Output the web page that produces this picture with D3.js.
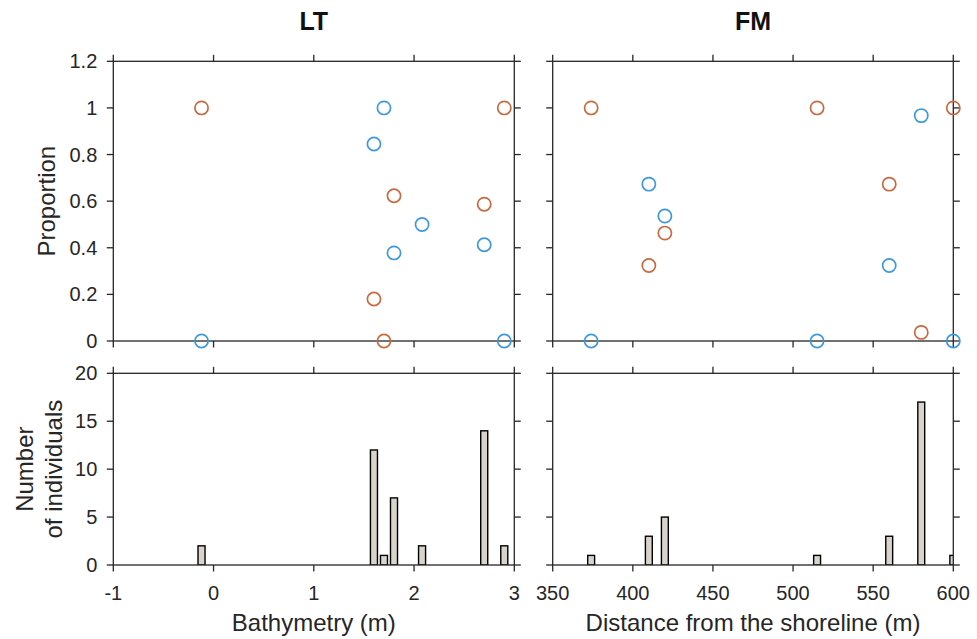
<!DOCTYPE html>
<html>
<head>
<meta charset="utf-8">
<script src="https://cdn.jsdelivr.net/npm/d3@7"></script>
<style>
  html, body { margin: 0; padding: 0; background: #fff; }
  svg { display: block; }
  text { font-family: "Liberation Sans", Arial, Helvetica, sans-serif; fill: #262626; }
</style>
</head>
<body>
<svg id="chart" width="977" height="639"></svg>
<script>
// ---------------- data ----------------
const panelTitles = ["LT", "FM"];
const xLabels = ["Bathymetry (m)", "Distance from the shoreline (m)"];

// LT (bathymetry); null = marker hidden under the other series in the picture
const ltX      = [-0.12, 1.6, 1.7, 1.8, 2.08, 2.7, 2.9];
const ltOrange = [1, 0.18, 0, 0.623, null, 0.587, 1];
const ltBlue   = [0, 0.845, 1, 0.378, 0.5, 0.413, 0];
const ltCount  = [2, 12, 1, 7, 2, 14, 2];
const ltXTicks = [-1, 0, 1, 2, 3];

// FM (distance from shoreline)
const fmX      = [374, 410, 420, 515, 560, 580, 600];
const fmOrange = [1, 0.324, 0.463, 1, 0.673, 0.037, 1];
const fmBlue   = [0, 0.673, 0.536, 0, 0.324, 0.967, 0];
const fmCount  = [1, 3, 5, 1, 3, 17, 1];
const fmXTicks = [350, 400, 450, 500, 550, 600];

const propTicks  = [0, 0.2, 0.4, 0.6, 0.8, 1, 1.2];
const propLabels = ["0", "0.2", "0.4", "0.6", "0.8", "1", "1.2"];
const countTicks = [0, 5, 10, 15, 20];

// ---------------- layout ----------------
const svg = d3.select("#chart");
const AX = "#262626";
const ORANGE = "#C8693F";
const BLUE = "#3D99DB";
const BARFILL = "#D8D4CC";

const cols = [
  { left: 113.3, right: 514.3, xDomain: [-1, 3], xs: ltX, or: ltOrange, bl: ltBlue, cnt: ltCount, ticks: ltXTicks, barW: 0.07 },
  { left: 552.7, right: 953.3, xDomain: [350, 600], xs: fmX, or: fmOrange, bl: fmBlue, cnt: fmCount, ticks: fmXTicks, barW: 4.3 }
];
const topRow = { top: 61.3, bottom: 341 };
const botRow = { top: 373.3, bottom: 565 };
const TICK = 6.5;

function frame(g, x, y, xTicks, yTicks) {
  const [x0, x1] = x.range();
  const [y0, y1] = y.range();
  g.append("rect").attr("x", x0).attr("y", y1).attr("width", x1 - x0).attr("height", y0 - y1)
    .attr("fill", "none").attr("stroke", AX).attr("stroke-width", 1.3);
  xTicks.forEach(t => {
    const px = x(t);
    g.append("line").attr("x1", px).attr("x2", px).attr("y1", y0).attr("y2", y0 + TICK).attr("stroke", AX).attr("stroke-width", 1.3);
    g.append("line").attr("x1", px).attr("x2", px).attr("y1", y1).attr("y2", y1 - TICK).attr("stroke", AX).attr("stroke-width", 1.3);
  });
  yTicks.forEach(t => {
    const py = y(t);
    g.append("line").attr("x1", x0).attr("x2", x0 - TICK).attr("y1", py).attr("y2", py).attr("stroke", AX).attr("stroke-width", 1.3);
    g.append("line").attr("x1", x1).attr("x2", x1 + TICK).attr("y1", py).attr("y2", py).attr("stroke", AX).attr("stroke-width", 1.3);
  });
}

cols.forEach((c, ci) => {
  const x = d3.scaleLinear().domain(c.xDomain).range([c.left, c.right]);
  const yP = d3.scaleLinear().domain([0, 1.2]).range([topRow.bottom, topRow.top]);
  const yC = d3.scaleLinear().domain([0, 20]).range([botRow.bottom, botRow.top]);

  // ----- top: proportions -----
  const gT = svg.append("g");
  frame(gT, x, yP, c.ticks, propTicks);
  if (ci === 0) {
    propTicks.forEach((t, i) => {
      gT.append("text").attr("x", c.left - 16).attr("y", yP(t)).attr("dy", "0.35em")
        .attr("text-anchor", "end").attr("font-size", 20).text(propLabels[i]);
    });
  }
  const oPts = c.xs.map((v, i) => ({ x: v, p: c.or[i] })).filter(d => d.p !== null);
  const bPts = c.xs.map((v, i) => ({ x: v, p: c.bl[i] })).filter(d => d.p !== null);
  gT.selectAll("circle.o").data(oPts).enter().append("circle")
    .attr("cx", d => x(d.x)).attr("cy", d => yP(d.p)).attr("r", 6.6)
    .attr("fill", "none").attr("stroke", ORANGE).attr("stroke-width", 1.7);
  gT.selectAll("circle.b").data(bPts).enter().append("circle")
    .attr("cx", d => x(d.x)).attr("cy", d => yP(d.p)).attr("r", 6.6)
    .attr("fill", "none").attr("stroke", BLUE).attr("stroke-width", 1.7);

  // title
  svg.append("text").attr("x", (c.left + c.right) / 2).attr("y", 30)
    .attr("text-anchor", "middle").attr("font-size", 25).attr("font-weight", "bold")
    .style("fill", "#111").text(panelTitles[ci]);

  // ----- bottom: counts -----
  const gB = svg.append("g");
  const clipId = "clip" + ci;
  svg.append("clipPath").attr("id", clipId).append("rect")
    .attr("x", c.left).attr("y", botRow.top).attr("width", c.right - c.left).attr("height", botRow.bottom - botRow.top);
  const bars = c.xs.map((v, i) => ({ x: v, n: c.cnt[i] }));
  gB.append("g").attr("clip-path", `url(#${clipId})`)
    .selectAll("rect").data(bars).enter().append("rect")
    .attr("x", d => x(d.x - c.barW / 2))
    .attr("width", d => x(d.x + c.barW / 2) - x(d.x - c.barW / 2))
    .attr("y", d => yC(d.n))
    .attr("height", d => yC(0) - yC(d.n))
    .attr("fill", BARFILL).attr("stroke", "#000").attr("stroke-width", 1.4);
  frame(gB, x, yC, c.ticks, countTicks);
  if (ci === 0) {
    countTicks.forEach(t => {
      gB.append("text").attr("x", c.left - 16).attr("y", yC(t)).attr("dy", "0.35em")
        .attr("text-anchor", "end").attr("font-size", 20).text(t);
    });
  }
  c.ticks.forEach(t => {
    gB.append("text").attr("x", x(t)).attr("y", 600).attr("text-anchor", "middle")
      .attr("font-size", 20).text(t);
  });
  svg.append("text").attr("x", (c.left + c.right) / 2).attr("y", 631)
    .attr("text-anchor", "middle").attr("font-size", 24).text(xLabels[ci]);
});

// y-axis labels
svg.append("text").attr("transform", `translate(55,${(topRow.top + topRow.bottom) / 2}) rotate(-90)`)
  .attr("text-anchor", "middle").attr("font-size", 24).text("Proportion");
svg.append("text").attr("transform", `translate(33,${(botRow.top + botRow.bottom) / 2}) rotate(-90)`)
  .attr("text-anchor", "middle").attr("font-size", 24).text("Number");
svg.append("text").attr("transform", `translate(62,${(botRow.top + botRow.bottom) / 2}) rotate(-90)`)
  .attr("text-anchor", "middle").attr("font-size", 24).text("of individuals");
</script>
</body>
</html>
